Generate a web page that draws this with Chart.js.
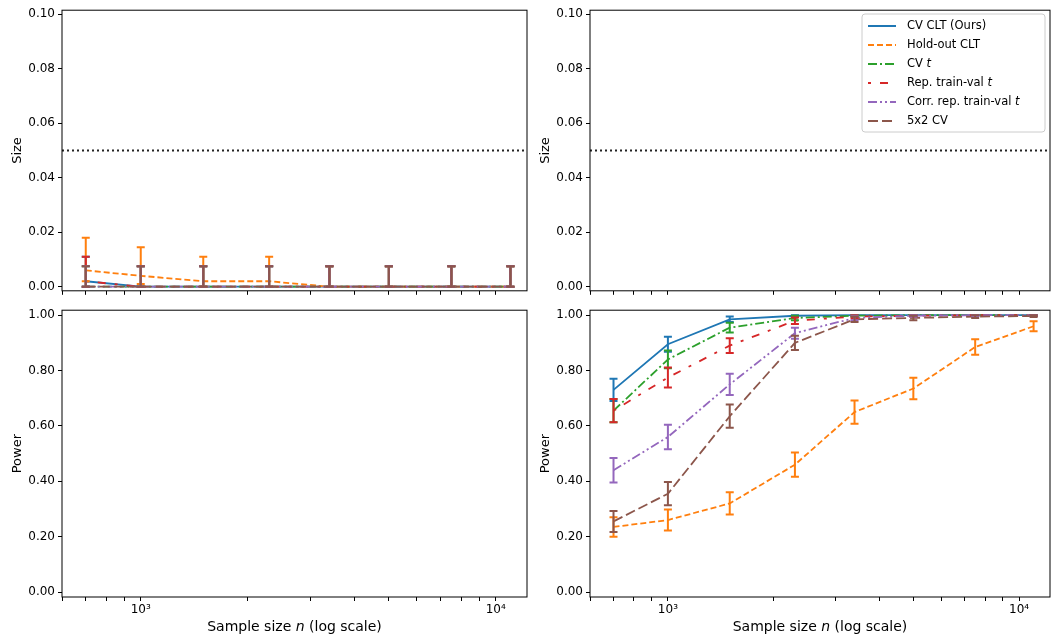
<!DOCTYPE html>
<html><head><meta charset="utf-8">
<script src="https://cdn.jsdelivr.net/npm/chart.js@4"></script>
<style>
body{margin:0;background:#fff;width:1053px;height:638px;position:relative;overflow:hidden}
.c{position:absolute}
</style></head><body>
<div class="c" style="left:0;top:0;width:530px;height:301px"><canvas id="tl"></canvas></div>
<div class="c" style="left:530px;top:0;width:523px;height:301px"><canvas id="tr"></canvas></div>
<div class="c" style="left:0;top:300px;width:530px;height:338px"><canvas id="bl"></canvas></div>
<div class="c" style="left:530px;top:300px;width:523px;height:338px"><canvas id="br"></canvas></div>
<script>
const sampleSizes = [700, 1000, 1500, 2300, 3400, 5000, 7500, 11000];
const seriesNames = ['CV CLT (Ours)', 'Hold-out CLT', 'CV t', 'Rep. train-val t', 'Corr. rep. train-val t', '5x2 CV'];
const colors = ['#1f77b4', '#ff7f0e', '#2ca02c', '#d62728', '#9467bd', '#8c564b'];
const dashes = [[], [6, 3], [9, 3, 2, 3], [3, 9, 8, 9], [9, 3, 2, 3, 2, 3], [10, 4]];

// size (left panel): value, lower, upper
const sizeVal = [
    [0.002, 0, 0, 0, 0, 0, 0, 0],
    [0.006, 0.004, 0.002, 0.002, 0, 0, 0, 0],
    [0, 0, 0, 0, 0, 0, 0, 0],
    [0.002, 0, 0, 0, 0, 0, 0, 0],
    [0, 0, 0, 0, 0, 0, 0, 0],
    [0, 0, 0, 0, 0, 0, 0, 0],
];
const sizeLo = [
    [0, 0, 0, 0, 0, 0, 0, 0],
    [0.002, 0.001, 0, 0, 0, 0, 0, 0],
    [0, 0, 0, 0, 0, 0, 0, 0],
    [0, 0, 0, 0, 0, 0, 0, 0],
    [0, 0, 0, 0, 0, 0, 0, 0],
    [0, 0, 0, 0, 0, 0, 0, 0],
];
const sizeHi = [
    [0.011, 0.0075, 0.0075, 0.0075, 0.0075, 0.0075, 0.0075, 0.0075],
    [0.018, 0.0145, 0.011, 0.011, 0.0075, 0.0075, 0.0075, 0.0075],
    [0.0075, 0.0075, 0.0075, 0.0075, 0.0075, 0.0075, 0.0075, 0.0075],
    [0.011, 0.0075, 0.0075, 0.0075, 0.0075, 0.0075, 0.0075, 0.0075],
    [0.0075, 0.0075, 0.0075, 0.0075, 0.0075, 0.0075, 0.0075, 0.0075],
    [0.0075, 0.0075, 0.0075, 0.0075, 0.0075, 0.0075, 0.0075, 0.0075],
];

// power (right panel)
const powerVal = [
    [0.73, 0.895, 0.985, 0.998, 1, 1, 1, 1],
    [0.235, 0.26, 0.32, 0.46, 0.65, 0.735, 0.885, 0.96],
    [0.655, 0.84, 0.955, 0.99, 0.998, 1, 1, 1],
    [0.655, 0.775, 0.89, 0.98, 0.995, 0.998, 1, 1],
    [0.44, 0.56, 0.75, 0.935, 0.99, 0.998, 1, 1],
    [0.255, 0.355, 0.635, 0.9, 0.985, 0.99, 0.995, 0.997],
];
const powerErr = [
    [0.04, 0.027, 0.01, 0.004, 0.003, 0.003, 0.003, 0.003],
    [0.035, 0.038, 0.04, 0.044, 0.042, 0.039, 0.028, 0.018],
    [0.042, 0.032, 0.018, 0.008, 0.004, 0.003, 0.003, 0.003],
    [0.042, 0.036, 0.027, 0.012, 0.006, 0.004, 0.003, 0.003],
    [0.044, 0.044, 0.038, 0.02, 0.008, 0.004, 0.003, 0.003],
    [0.038, 0.042, 0.042, 0.026, 0.01, 0.008, 0.005, 0.004],
];

const xMin = 600, xMax = 12250;
const xTickVals = [600, 700, 800, 900, 1000, 2000, 3000, 4000, 5000, 6000, 7000, 8000, 9000, 10000];
const FONT = "'DejaVu Sans', sans-serif";

const errorBars = {
    id: 'errorBars',
    afterDatasetsDraw(chart) {
        const ctx = chart.ctx, xs = chart.scales.x, ys = chart.scales.y;
        ctx.save();
        chart.data.datasets.forEach(ds => {
            if (!ds.errLo) return;
            ctx.strokeStyle = ds.borderColor;
            ctx.lineWidth = 2;
            ds.data.forEach((p, i) => {
                const x = xs.getPixelForValue(p.x);
                const y1 = ys.getPixelForValue(ds.errLo[i]), y2 = ys.getPixelForValue(ds.errHi[i]);
                ctx.beginPath();
                ctx.moveTo(x, y1); ctx.lineTo(x, y2);
                ctx.moveTo(x - 4, y1); ctx.lineTo(x + 4, y1);
                ctx.moveTo(x - 4, y2); ctx.lineTo(x + 4, y2);
                ctx.stroke();
            });
        });
        const a = chart.chartArea;
        ctx.strokeStyle = '#000'; ctx.lineWidth = 1;
        ctx.strokeRect(a.left, a.top, a.right - a.left, a.bottom - a.top);
        if (chart.options.xTitle) {
            ctx.fillStyle = '#000';
            ctx.textBaseline = 'alphabetic';
            const parts = [['Sample size ', ''], ['n', 'italic '], [' (log scale)', '']];
            let w = 0;
            parts.forEach(p => { ctx.font = p[1] + '14px ' + FONT; w += ctx.measureText(p[0]).width; });
            let x = (a.left + a.right) / 2 - w / 2;
            parts.forEach(p => {
                ctx.font = p[1] + '14px ' + FONT;
                ctx.textAlign = 'left';
                ctx.fillText(p[0], x, 331);
                x += ctx.measureText(p[0]).width;
            });
        }
        if (chart.options.drawLegend) {
            const lx = 862, ly = 14, lw = 183, lh = 118;
            const ox = lx - 530;
            ctx.fillStyle = 'rgba(255,255,255,0.85)';
            ctx.strokeStyle = '#ccc';
            ctx.beginPath(); ctx.roundRect(ox, ly, lw, lh, 3); ctx.fill(); ctx.stroke();
            const labels = [
                [['CV CLT (Ours)', '']], [['Hold-out CLT', '']], [['CV ', ''], ['t', 'italic ']],
                [['Rep. train-val ', ''], ['t', 'italic ']], [['Corr. rep. train-val ', ''], ['t', 'italic ']], [['5x2 CV', '']]
            ];
            labels.forEach((segs, i) => {
                const y = ly + 12 + i * 19;
                ctx.strokeStyle = colors[i]; ctx.lineWidth = 2;
                ctx.setLineDash(dashes[i]);
                ctx.beginPath(); ctx.moveTo(ox + 6, y); ctx.lineTo(ox + 34, y); ctx.stroke();
                ctx.setLineDash([]);
                ctx.fillStyle = '#000'; ctx.textBaseline = 'middle'; ctx.textAlign = 'left';
                let x = ox + 45;
                segs.forEach(s => {
                    ctx.font = s[1] + '11.5px ' + FONT;
                    ctx.fillText(s[0], x, y);
                    x += ctx.measureText(s[0]).width;
                });
            });
        }
        ctx.restore();
    }
};

function makeChart(id, opts) {
    const datasets = [];
    if (opts.vals) {
        opts.vals.forEach((vals, i) => {
            datasets.push({
                label: seriesNames[i],
                data: sampleSizes.map((n, j) => ({ x: n, y: vals[j] })),
                errLo: opts.lo[i], errHi: opts.hi[i],
                borderColor: colors[i], borderDash: dashes[i], borderWidth: 1.8,
                pointRadius: 0, fill: false, tension: 0, order: 10 - i,
            });
        });
    }
    if (opts.size) {
        datasets.push({
            label: 'alpha', data: [{ x: xMin, y: 0.05 }, { x: xMax, y: 0.05 }],
            borderColor: '#222', borderDash: [2, 3], borderWidth: 1.8, pointRadius: 0, order: 20,
        });
    }
    new Chart(document.getElementById(id), {
        type: 'line',
        data: { datasets },
        plugins: [errorBars],
        options: {
            responsive: true, maintainAspectRatio: false, animation: false,
            xTitle: opts.xTitle, drawLegend: opts.legend,
            layout: { padding: { top: 10, right: 3, left: opts.pl } },
            plugins: { legend: { display: false }, tooltip: { enabled: false } },
            scales: {
                x: {
                    type: 'logarithmic', min: xMin, max: xMax,
                    afterBuildTicks: s => { s.ticks = xTickVals.map(v => ({ value: v })); },
                    afterFit: s => { s.height = opts.showX ? 41 : 8; },
                    grid: { drawOnChartArea: false, tickLength: 4, color: '#000' },
                    border: { display: false },
                    ticks: {
                        display: !!opts.showX, autoSkip: false, maxRotation: 0, color: '#000', padding: 2,
                        font: { family: FONT, size: 12 },
                        callback: v => v === 1000 ? '10³' : v === 10000 ? '10⁴' : '',
                    },
                },
                y: {
                    min: opts.size ? -0.0015 : -0.018, max: opts.size ? 0.1015 : 1.018,
                    afterBuildTicks: s => {
                        s.ticks = (opts.size ? [0, 0.02, 0.04, 0.06, 0.08, 0.1] : [0, 0.2, 0.4, 0.6, 0.8, 1]).map(v => ({ value: v }));
                    },
                    afterFit: s => { s.width = opts.yw; },
                    grid: { drawOnChartArea: false, tickLength: 4, color: '#000' },
                    border: { display: false },
                    title: { display: true, text: opts.size ? 'Size' : 'Power', color: '#000', font: { family: FONT, size: 13 }, padding: 0 },
                    ticks: { color: '#000', font: { family: FONT, size: 12 }, padding: 3, callback: v => v.toFixed(2) },
                },
            },
        },
    });
}

makeChart('tl', { size: true, vals: sizeVal, lo: sizeLo, hi: sizeHi, yw: 52, pl: 10 });
makeChart('tr', { size: true, yw: 52, pl: 8, legend: true });
makeChart('bl', { size: false, yw: 52, pl: 10, showX: true, xTitle: true });
makeChart('br', {
    size: false, yw: 52, pl: 8, showX: true, xTitle: true,
    vals: powerVal,
    lo: powerVal.map((v, i) => v.map((p, j) => p - powerErr[i][j])),
    hi: powerVal.map((v, i) => v.map((p, j) => Math.min(1, p + powerErr[i][j]))),
});
</script>
</body></html>
